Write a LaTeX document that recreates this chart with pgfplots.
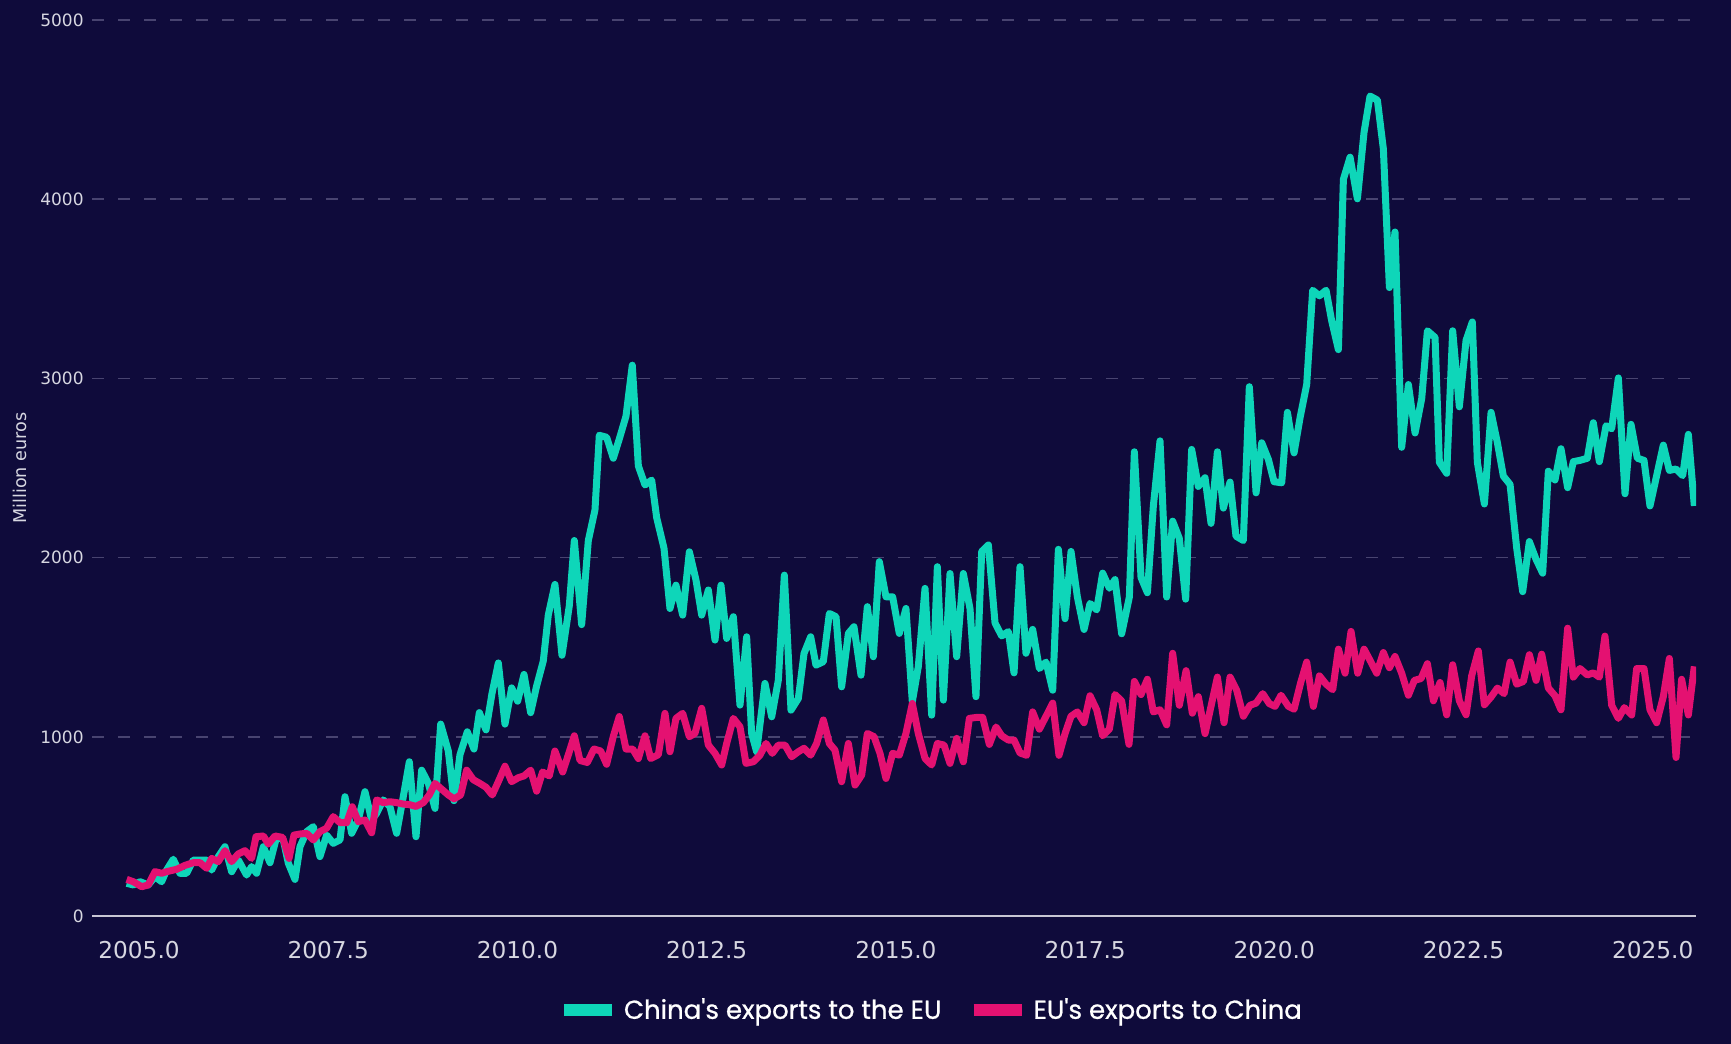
\documentclass[border=0pt]{standalone}
\usepackage{pgfplots}
\pgfplotsset{compat=1.18}
\usepackage{fontspec}
\setmainfont{DejaVu Sans}
\newfontfamily\legendfont{Poppins}[FakeBold=0.8]
\definecolor{bg}{RGB}{15,11,59}
\definecolor{cyanl}{RGB}{14,214,185}
\definecolor{pinkl}{RGB}{228,17,113}
\definecolor{gridc}{RGB}{72,68,112}
\definecolor{axisc}{RGB}{200,198,212}
\definecolor{tickc}{RGB}{215,215,225}
\begin{document}
\begin{tikzpicture}
\fill[bg] (-46pt,-63.85pt) rectangle (819.5pt,458.15pt);
\begin{axis}[
 at={(0,0)}, anchor=south west,
 scale only axis, width=802pt, height=448.2pt,
 xmin=2004.378, xmax=2025.572, ymin=0, ymax=5000,
 axis x line*=bottom, axis y line*=left,
 x axis line style={draw=axisc, line width=1pt},
 y axis line style={draw=none},
 major tick length=0pt, tick style={draw=none},
 xtick={2005,2007.5,2010,2012.5,2015,2017.5,2020,2022.5,2025},
 xticklabels={2005.0,2007.5,2010.0,2012.5,2015.0,2017.5,2020.0,2022.5,2025.0},
 ytick={0,1000,2000,3000,4000,5000},
 yticklabels={0,1000,2000,3000,4000,5000},
 xticklabel style={font=\fontsize{11.6}{13}\selectfont, text=tickc, anchor=north, inner sep=0pt, yshift=-12.2pt},
 yticklabel style={font=\fontsize{8.5}{10}\selectfont, text=tickc, anchor=east, inner sep=0pt, xshift=-4pt},
 ymajorgrids, grid style={gridc, line width=0.75pt, dash pattern=on 6pt off 7pt},
 ylabel={Million euros},
 every axis y label/.style={at={(axis description cs:-0.0449,0.5)}, rotate=90, anchor=center, font=\fontsize{8.8}{10}\selectfont, text=tickc},
 legend style={at={(axis description cs:0.5224,-0.1045)}, anchor=center, draw=none, fill=none, legend columns=2, font=\legendfont\fontsize{13}{15}\selectfont, text=white, nodes={inner sep=0pt}, /tikz/every odd column/.append style={column sep=3pt}, /tikz/every even column/.append style={column sep=13pt}},
 legend image code/.code={\draw[#1, line width=6pt, line cap=butt] (0pt,0pt) -- (24pt,0pt);},
]
\addplot[cyanl, line width=3.5pt, line join=round] table {
2004.836 184
2004.924 175
2005.012 193
2005.122 175
2005.210 221
2005.298 193
2005.364 258
2005.452 318
2005.540 240
2005.628 240
2005.717 314
2005.805 314
2005.893 314
2005.959 258
2006.047 333
2006.135 388
2006.223 249
2006.311 314
2006.421 230
2006.487 277
2006.553 240
2006.642 388
2006.730 299
2006.818 444
2006.906 426
2006.972 296
2007.060 206
2007.126 388
2007.214 472
2007.302 500
2007.390 333
2007.478 453
2007.566 407
2007.655 426
2007.721 667
2007.809 463
2007.897 537
2007.985 695
2008.073 537
2008.139 574
2008.227 649
2008.315 611
2008.403 463
2008.491 667
2008.571 862
2008.659 444
2008.734 815
2008.822 741
2008.910 602
2008.985 1072
2009.086 922
2009.161 645
2009.240 901
2009.337 1029
2009.425 933
2009.496 1136
2009.584 1040
2009.663 1242
2009.747 1413
2009.835 1072
2009.923 1274
2010.002 1200
2010.086 1349
2010.174 1136
2010.253 1285
2010.341 1424
2010.407 1680
2010.495 1851
2010.588 1456
2010.685 1733
2010.751 2096
2010.848 1627
2010.936 2096
2011.024 2267
2011.081 2683
2011.178 2672
2011.266 2555
2011.345 2662
2011.434 2790
2011.517 3074
2011.597 2512
2011.685 2406
2011.773 2433
2011.839 2224
2011.936 2053
2012.015 1717
2012.094 1847
2012.183 1680
2012.271 2033
2012.359 1875
2012.434 1680
2012.522 1820
2012.610 1541
2012.689 1847
2012.764 1550
2012.852 1671
2012.940 1178
2013.028 1559
2013.094 1020
2013.160 918
2013.270 1299
2013.359 1113
2013.447 1318
2013.526 1903
2013.614 1150
2013.711 1215
2013.786 1466
2013.874 1559
2013.944 1401
2014.041 1420
2014.121 1689
2014.209 1671
2014.283 1280
2014.372 1578
2014.446 1615
2014.539 1345
2014.623 1727
2014.702 1448
2014.781 1978
2014.869 1782
2014.957 1782
2015.045 1578
2015.133 1717
2015.217 1197
2015.296 1392
2015.385 1829
2015.473 1122
2015.548 1950
2015.627 1206
2015.715 1912
2015.803 1448
2015.891 1912
2015.979 1717
2016.058 1225
2016.134 2035
2016.222 2071
2016.310 1636
2016.398 1564
2016.486 1588
2016.561 1358
2016.640 1950
2016.719 1467
2016.807 1600
2016.896 1382
2016.984 1418
2017.072 1261
2017.147 2047
2017.235 1660
2017.314 2035
2017.398 1781
2017.486 1600
2017.565 1745
2017.653 1709
2017.732 1914
2017.821 1830
2017.895 1878
2017.983 1576
2018.085 1781
2018.151 2591
2018.239 1890
2018.323 1805
2018.402 2289
2018.490 2652
2018.578 1781
2018.657 2204
2018.745 2108
2018.829 1769
2018.908 2604
2018.996 2398
2019.085 2446
2019.164 2192
2019.248 2591
2019.327 2277
2019.415 2422
2019.494 2120
2019.591 2096
2019.670 2954
2019.759 2362
2019.834 2641
2019.922 2548
2019.997 2424
2020.098 2418
2020.173 2811
2020.261 2585
2020.340 2780
2020.428 2966
2020.507 3492
2020.596 3461
2020.684 3492
2020.758 3322
2020.847 3161
2020.913 4111
2021.001 4234
2021.098 4002
2021.186 4374
2021.265 4575
2021.362 4553
2021.441 4281
2021.521 3507
2021.595 3817
2021.683 2616
2021.772 2966
2021.860 2696
2021.948 2888
2022.023 3266
2022.124 3229
2022.181 2532
2022.278 2471
2022.357 3266
2022.445 2842
2022.534 3213
2022.617 3315
2022.683 2532
2022.776 2300
2022.864 2811
2022.948 2641
2023.027 2455
2023.115 2409
2023.203 2053
2023.282 1811
2023.370 2090
2023.459 1991
2023.546 1914
2023.621 2483
2023.709 2434
2023.788 2608
2023.876 2391
2023.951 2536
2024.039 2543
2024.136 2555
2024.215 2753
2024.295 2536
2024.383 2736
2024.458 2720
2024.546 3003
2024.634 2357
2024.713 2744
2024.797 2555
2024.885 2543
2024.964 2289
2025.052 2458
2025.140 2628
2025.220 2487
2025.308 2495
2025.396 2458
2025.471 2688
2025.550 2289
};
\addlegendentry{China's exports to the EU}
\addplot[pinkl, line width=3.5pt, line join=round] table {
2004.836 206
2004.924 193
2005.034 165
2005.122 175
2005.210 249
2005.298 240
2005.364 249
2005.496 262
2005.607 284
2005.717 299
2005.805 299
2005.893 268
2005.959 323
2006.047 305
2006.135 366
2006.223 305
2006.311 348
2006.399 366
2006.487 323
2006.545 444
2006.642 448
2006.708 403
2006.796 448
2006.897 440
2006.981 323
2007.047 453
2007.126 459
2007.214 463
2007.302 426
2007.390 472
2007.478 491
2007.566 556
2007.655 522
2007.743 522
2007.817 611
2007.897 528
2007.985 537
2008.073 466
2008.139 649
2008.227 634
2008.315 639
2008.403 634
2008.491 626
2008.571 623
2008.659 613
2008.756 634
2008.835 677
2008.910 741
2008.998 709
2009.086 677
2009.161 655
2009.249 677
2009.328 815
2009.416 762
2009.504 741
2009.584 720
2009.667 677
2009.747 751
2009.835 837
2009.923 751
2010.011 773
2010.086 783
2010.174 815
2010.253 698
2010.332 805
2010.420 783
2010.495 922
2010.597 805
2010.672 901
2010.751 1007
2010.826 869
2010.923 858
2011.011 933
2011.099 922
2011.178 848
2011.266 1003
2011.345 1114
2011.434 933
2011.522 933
2011.597 880
2011.685 1007
2011.760 880
2011.861 901
2011.949 1132
2012.015 918
2012.094 1104
2012.183 1132
2012.271 1002
2012.345 1020
2012.434 1160
2012.522 955
2012.610 909
2012.698 844
2012.764 964
2012.852 1104
2012.940 1057
2013.019 853
2013.116 862
2013.204 899
2013.284 964
2013.367 909
2013.447 955
2013.535 955
2013.623 890
2013.711 918
2013.786 937
2013.874 899
2013.953 964
2014.041 1095
2014.121 964
2014.195 927
2014.283 751
2014.372 964
2014.460 732
2014.548 788
2014.623 1020
2014.711 1002
2014.790 909
2014.869 769
2014.957 909
2015.045 899
2015.133 1020
2015.217 1187
2015.296 1020
2015.385 881
2015.473 844
2015.548 964
2015.636 955
2015.715 853
2015.803 992
2015.891 862
2015.971 1104
2016.059 1109
2016.147 1109
2016.235 959
2016.323 1056
2016.398 1007
2016.486 983
2016.561 983
2016.640 911
2016.728 898
2016.807 1140
2016.896 1044
2016.984 1116
2017.072 1189
2017.155 898
2017.235 1019
2017.314 1116
2017.398 1140
2017.486 1080
2017.565 1230
2017.653 1152
2017.732 1007
2017.821 1044
2017.895 1237
2017.983 1201
2018.080 959
2018.151 1310
2018.239 1237
2018.323 1322
2018.402 1140
2018.490 1152
2018.578 1068
2018.657 1467
2018.745 1177
2018.834 1370
2018.917 1133
2018.996 1225
2019.085 1019
2019.173 1189
2019.248 1334
2019.336 1080
2019.415 1334
2019.503 1261
2019.591 1116
2019.679 1177
2019.759 1189
2019.847 1242
2019.935 1186
2020.010 1171
2020.089 1233
2020.186 1171
2020.261 1155
2020.349 1304
2020.428 1418
2020.516 1171
2020.596 1341
2020.684 1295
2020.772 1264
2020.847 1490
2020.935 1356
2021.014 1589
2021.102 1356
2021.186 1490
2021.265 1428
2021.353 1356
2021.441 1471
2021.521 1387
2021.595 1449
2021.683 1356
2021.772 1233
2021.851 1316
2021.939 1326
2022.023 1409
2022.102 1202
2022.190 1304
2022.278 1124
2022.357 1403
2022.445 1202
2022.534 1124
2022.608 1341
2022.696 1480
2022.776 1180
2022.864 1223
2022.948 1273
2023.036 1242
2023.115 1418
2023.203 1295
2023.291 1310
2023.370 1459
2023.459 1316
2023.533 1462
2023.621 1273
2023.709 1230
2023.788 1152
2023.876 1607
2023.951 1334
2024.039 1382
2024.136 1346
2024.215 1358
2024.295 1334
2024.369 1563
2024.458 1177
2024.546 1104
2024.625 1164
2024.722 1123
2024.788 1382
2024.885 1382
2024.964 1152
2025.052 1080
2025.140 1225
2025.220 1438
2025.308 886
2025.382 1322
2025.471 1123
2025.550 1394
};
\addlegendentry{EU's exports to China}
\end{axis}
\pgfresetboundingbox
\path (-46pt,-63.85pt) rectangle (819.5pt,458.15pt);
\end{tikzpicture}
\end{document}
